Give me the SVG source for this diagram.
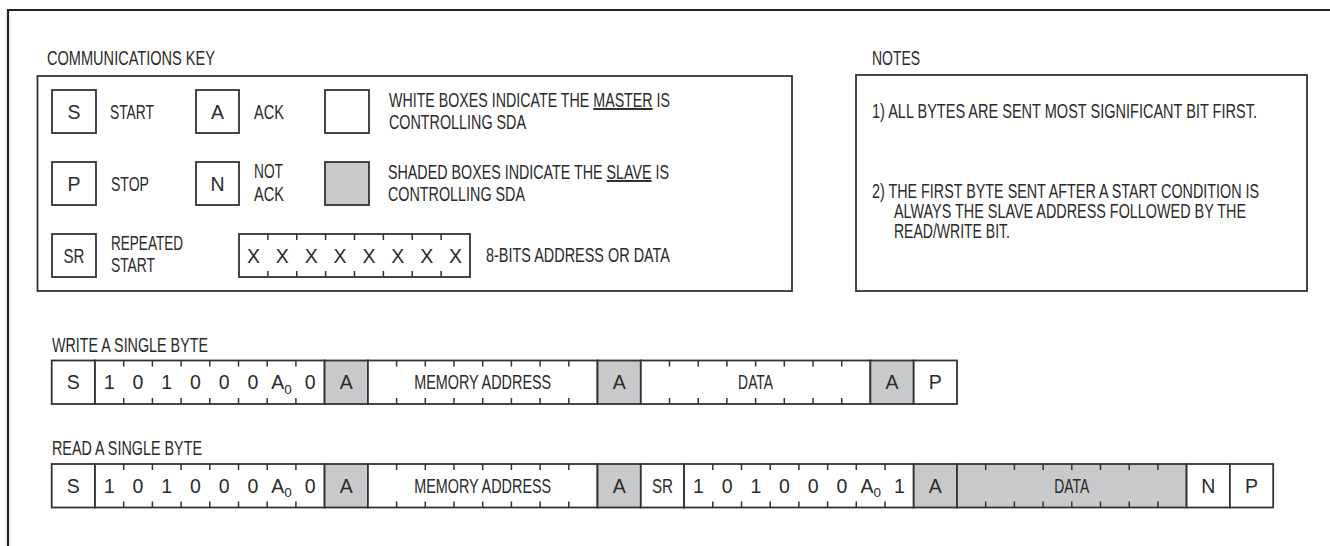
<svg xmlns="http://www.w3.org/2000/svg" width="1330" height="546" viewBox="0 0 1330 546">
<style>
.t{font-family:"Liberation Sans Narrow","Liberation Sans",Arial,sans-serif;font-size:19.5px;fill:#2b2b2b}
.c{text-anchor:middle}
.b{fill:#fff;stroke:#333;stroke-width:1.8}
.s{fill:#c8c9ca;stroke:#333;stroke-width:1.8}
.k{fill:none;stroke:#333;stroke-width:1.5}
.sub{font-size:13.5px}
.u{text-decoration:underline}
</style>
<rect width="1330" height="546" fill="#fff"/>
<path d="M8 546V10H1330" fill="none" stroke="#222" stroke-width="2.2"/>

<g id="key">
  <text class="t" x="47" y="65" textLength="168" lengthAdjust="spacingAndGlyphs">COMMUNICATIONS KEY</text>
  <rect class="b" x="37.5" y="76" width="754.5" height="215"/>
  <g id="key-start">
    <rect class="b" x="52" y="90" width="44" height="43"/>
    <text class="t c" x="74" y="118.5">S</text>
    <text class="t" x="110" y="118.5" textLength="44" lengthAdjust="spacingAndGlyphs">START</text>
  </g>
  <g id="key-ack">
    <rect class="b" x="196" y="90" width="43" height="43"/>
    <text class="t c" x="217.5" y="118.5">A</text>
    <text class="t" x="254" y="118.5" textLength="30" lengthAdjust="spacingAndGlyphs">ACK</text>
  </g>
  <g id="key-white">
    <rect class="b" x="325" y="90" width="44" height="43"/>
    <text class="t" x="389" y="107" textLength="281" lengthAdjust="spacingAndGlyphs">WHITE BOXES INDICATE THE <tspan class="u">MASTER</tspan> IS</text>
    <text class="t" x="389" y="129" textLength="137" lengthAdjust="spacingAndGlyphs">CONTROLLING SDA</text>
  </g>
  <g id="key-stop">
    <rect class="b" x="52" y="162" width="44" height="43"/>
    <text class="t c" x="74" y="190.5">P</text>
    <text class="t" x="111" y="190.5" textLength="38" lengthAdjust="spacingAndGlyphs">STOP</text>
  </g>
  <g id="key-notack">
    <rect class="b" x="196" y="162" width="43" height="43"/>
    <text class="t c" x="217.5" y="190.5">N</text>
    <text class="t" x="254" y="178" textLength="29" lengthAdjust="spacingAndGlyphs">NOT</text>
    <text class="t" x="254" y="201" textLength="30" lengthAdjust="spacingAndGlyphs">ACK</text>
  </g>
  <g id="key-shaded">
    <rect class="s" x="325" y="162" width="44" height="43"/>
    <text class="t" x="388" y="179" textLength="281" lengthAdjust="spacingAndGlyphs">SHADED BOXES INDICATE THE <tspan class="u">SLAVE</tspan> IS</text>
    <text class="t" x="388" y="201" textLength="137" lengthAdjust="spacingAndGlyphs">CONTROLLING SDA</text>
  </g>
  <g id="key-sr">
    <rect class="b" x="52" y="234" width="44" height="43"/>
    <text class="t c" x="74" y="262.5" textLength="21" lengthAdjust="spacingAndGlyphs">SR</text>
    <text class="t" x="111" y="250" textLength="72" lengthAdjust="spacingAndGlyphs">REPEATED</text>
    <text class="t" x="111" y="272" textLength="44" lengthAdjust="spacingAndGlyphs">START</text>
  </g>
  <g id="key-byte">
    <rect class="b" x="239" y="234" width="231" height="43"/>
    <path class="k" d="M267.9 234v6M296.75 234v6M325.6 234v6M354.5 234v6M383.4 234v6M412.25 234v6M441.1 234v6M267.9 277v-6M296.75 277v-6M325.6 277v-6M354.5 277v-6M383.4 277v-6M412.25 277v-6M441.1 277v-6"/>
    <text class="t c" x="253.4" y="262.5">X</text>
    <text class="t c" x="282.3" y="262.5">X</text>
    <text class="t c" x="311.2" y="262.5">X</text>
    <text class="t c" x="340.1" y="262.5">X</text>
    <text class="t c" x="369" y="262.5">X</text>
    <text class="t c" x="397.8" y="262.5">X</text>
    <text class="t c" x="426.7" y="262.5">X</text>
    <text class="t c" x="455.6" y="262.5">X</text>
    <text class="t" x="486" y="261.5" textLength="184" lengthAdjust="spacingAndGlyphs">8-BITS ADDRESS OR DATA</text>
  </g>
</g>

<g id="notes">
  <text class="t" x="872" y="65" textLength="48" lengthAdjust="spacingAndGlyphs">NOTES</text>
  <rect class="b" x="856" y="75" width="451" height="216"/>
  <text class="t" x="872" y="118" textLength="385" lengthAdjust="spacingAndGlyphs">1) ALL BYTES ARE SENT MOST SIGNIFICANT BIT FIRST.</text>
  <text class="t" x="872" y="198" textLength="387" lengthAdjust="spacingAndGlyphs">2) THE FIRST BYTE SENT AFTER A START CONDITION IS</text>
  <text class="t" x="894" y="218" textLength="352" lengthAdjust="spacingAndGlyphs">ALWAYS THE SLAVE ADDRESS FOLLOWED BY THE</text>
  <text class="t" x="894" y="238" textLength="116" lengthAdjust="spacingAndGlyphs">READ/WRITE BIT.</text>
</g>

<g id="write">
  <text class="t" x="52" y="352" textLength="156" lengthAdjust="spacingAndGlyphs">WRITE A SINGLE BYTE</text>
  <g id="w-start">
    <rect class="b" x="51.7" y="360.5" width="43.3" height="43.5"/>
    <text class="t c" x="73.35" y="389.3">S</text>
  </g>
  <g id="w-addr">
    <rect class="b" x="95" y="360.5" width="229.6" height="43.5"/>
    <path class="k" d="M123.7 360.5v6M152.4 360.5v6M181.1 360.5v6M209.8 360.5v6M238.5 360.5v6M267.2 360.5v6M295.9 360.5v6M123.7 404v-6M152.4 404v-6M181.1 404v-6M209.8 404v-6M238.5 404v-6M267.2 404v-6M295.9 404v-6"/>
    <text class="t c" x="109.35" y="389.3">1</text>
    <text class="t c" x="138.05" y="389.3">0</text>
    <text class="t c" x="166.75" y="389.3">1</text>
    <text class="t c" x="195.45" y="389.3">0</text>
    <text class="t c" x="224.15" y="389.3">0</text>
    <text class="t c" x="252.85" y="389.3">0</text>
    <text class="t c" x="281.55" y="389.3">A<tspan class="sub" dy="4.5">0</tspan></text>
    <text class="t c" x="310.25" y="389.3">0</text>
  </g>
  <g id="w-ack1">
    <rect class="s" x="324.6" y="360.5" width="43.3" height="43.5"/>
    <text class="t c" x="346.25" y="389.3">A</text>
  </g>
  <g id="w-mem">
    <rect class="b" x="367.9" y="360.5" width="229.6" height="43.5"/>
    <path class="k" d="M396.6 360.5v6M425.3 360.5v6M454 360.5v6M482.7 360.5v6M511.4 360.5v6M540.1 360.5v6M568.8 360.5v6M396.6 404v-6M425.3 404v-6M454 404v-6M482.7 404v-6M511.4 404v-6M540.1 404v-6M568.8 404v-6"/>
    <text class="t c" x="482.7" y="389.3" textLength="137" lengthAdjust="spacingAndGlyphs">MEMORY ADDRESS</text>
  </g>
  <g id="w-ack2">
    <rect class="s" x="597.5" y="360.5" width="43.3" height="43.5"/>
    <text class="t c" x="619.15" y="389.3">A</text>
  </g>
  <g id="w-data">
    <rect class="b" x="640.8" y="360.5" width="229.6" height="43.5"/>
    <path class="k" d="M669.5 360.5v6M698.2 360.5v6M726.9 360.5v6M755.6 360.5v6M784.3 360.5v6M813 360.5v6M841.7 360.5v6M669.5 404v-6M698.2 404v-6M726.9 404v-6M755.6 404v-6M784.3 404v-6M813 404v-6M841.7 404v-6"/>
    <text class="t c" x="755.6" y="389.3" textLength="35" lengthAdjust="spacingAndGlyphs">DATA</text>
  </g>
  <g id="w-ack3">
    <rect class="s" x="870.4" y="360.5" width="43.3" height="43.5"/>
    <text class="t c" x="892.05" y="389.3">A</text>
  </g>
  <g id="w-stop">
    <rect class="b" x="913.7" y="360.5" width="43.3" height="43.5"/>
    <text class="t c" x="935.35" y="389.3">P</text>
  </g>
</g>

<g id="read">
  <text class="t" x="52" y="455" textLength="150" lengthAdjust="spacingAndGlyphs">READ A SINGLE BYTE</text>
  <g id="r-start">
    <rect class="b" x="51.7" y="464" width="43.3" height="43.5"/>
    <text class="t c" x="73.35" y="492.8">S</text>
  </g>
  <g id="r-addr">
    <rect class="b" x="95" y="464" width="229.6" height="43.5"/>
    <path class="k" d="M123.7 464v6M152.4 464v6M181.1 464v6M209.8 464v6M238.5 464v6M267.2 464v6M295.9 464v6M123.7 507.5v-6M152.4 507.5v-6M181.1 507.5v-6M209.8 507.5v-6M238.5 507.5v-6M267.2 507.5v-6M295.9 507.5v-6"/>
    <text class="t c" x="109.35" y="492.8">1</text>
    <text class="t c" x="138.05" y="492.8">0</text>
    <text class="t c" x="166.75" y="492.8">1</text>
    <text class="t c" x="195.45" y="492.8">0</text>
    <text class="t c" x="224.15" y="492.8">0</text>
    <text class="t c" x="252.85" y="492.8">0</text>
    <text class="t c" x="281.55" y="492.8">A<tspan class="sub" dy="4.5">0</tspan></text>
    <text class="t c" x="310.25" y="492.8">0</text>
  </g>
  <g id="r-ack1">
    <rect class="s" x="324.6" y="464" width="43.3" height="43.5"/>
    <text class="t c" x="346.25" y="492.8">A</text>
  </g>
  <g id="r-mem">
    <rect class="b" x="367.9" y="464" width="229.6" height="43.5"/>
    <path class="k" d="M396.6 464v6M425.3 464v6M454 464v6M482.7 464v6M511.4 464v6M540.1 464v6M568.8 464v6M396.6 507.5v-6M425.3 507.5v-6M454 507.5v-6M482.7 507.5v-6M511.4 507.5v-6M540.1 507.5v-6M568.8 507.5v-6"/>
    <text class="t c" x="482.7" y="492.8" textLength="137" lengthAdjust="spacingAndGlyphs">MEMORY ADDRESS</text>
  </g>
  <g id="r-ack2">
    <rect class="s" x="597.5" y="464" width="43.3" height="43.5"/>
    <text class="t c" x="619.15" y="492.8">A</text>
  </g>
  <g id="r-sr">
    <rect class="b" x="640.8" y="464" width="43.3" height="43.5"/>
    <text class="t c" x="662.45" y="492.8" textLength="21" lengthAdjust="spacingAndGlyphs">SR</text>
  </g>
  <g id="r-addr2">
    <rect class="b" x="684.1" y="464" width="229.6" height="43.5"/>
    <path class="k" d="M712.8 464v6M741.5 464v6M770.2 464v6M798.9 464v6M827.6 464v6M856.3 464v6M885 464v6M712.8 507.5v-6M741.5 507.5v-6M770.2 507.5v-6M798.9 507.5v-6M827.6 507.5v-6M856.3 507.5v-6M885 507.5v-6"/>
    <text class="t c" x="698.45" y="492.8">1</text>
    <text class="t c" x="727.15" y="492.8">0</text>
    <text class="t c" x="755.85" y="492.8">1</text>
    <text class="t c" x="784.55" y="492.8">0</text>
    <text class="t c" x="813.25" y="492.8">0</text>
    <text class="t c" x="841.95" y="492.8">0</text>
    <text class="t c" x="870.65" y="492.8">A<tspan class="sub" dy="4.5">0</tspan></text>
    <text class="t c" x="899.35" y="492.8">1</text>
  </g>
  <g id="r-ack3">
    <rect class="s" x="913.7" y="464" width="43.3" height="43.5"/>
    <text class="t c" x="935.35" y="492.8">A</text>
  </g>
  <g id="r-data">
    <rect class="s" x="957" y="464" width="229.6" height="43.5"/>
    <path class="k" d="M985.7 464v6M1014.4 464v6M1043.1 464v6M1071.8 464v6M1100.5 464v6M1129.2 464v6M1157.9 464v6M985.7 507.5v-6M1014.4 507.5v-6M1043.1 507.5v-6M1071.8 507.5v-6M1100.5 507.5v-6M1129.2 507.5v-6M1157.9 507.5v-6"/>
    <text class="t c" x="1071.8" y="492.8" textLength="35" lengthAdjust="spacingAndGlyphs">DATA</text>
  </g>
  <g id="r-notack">
    <rect class="b" x="1186.6" y="464" width="43.3" height="43.5"/>
    <text class="t c" x="1208.25" y="492.8">N</text>
  </g>
  <g id="r-stop">
    <rect class="b" x="1229.9" y="464" width="43.3" height="43.5"/>
    <text class="t c" x="1251.55" y="492.8">P</text>
  </g>
</g>

<g id="connectors"/>
</svg>
